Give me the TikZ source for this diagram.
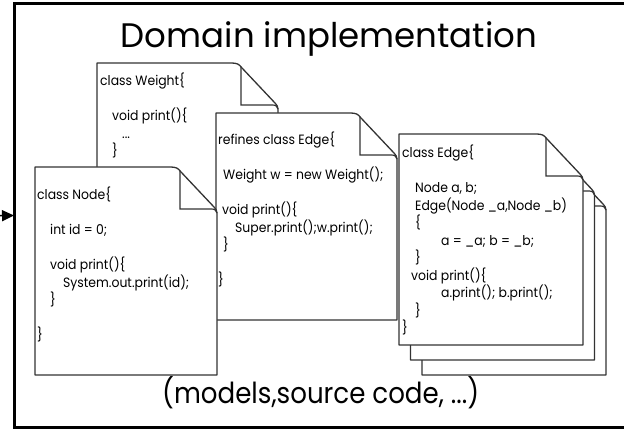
\documentclass[tikz,border=0pt]{standalone}
\usepackage{fontspec}
\setmainfont{Poppins}
\newfontfamily\codefont[FakeStretch=0.92]{Poppins}
\newfontfamily\headfont{Poppins}
\newfontfamily\notefont[FakeStretch=0.9]{Poppins}
\usetikzlibrary{arrows.meta}

\tikzset{
  page/.style={draw=black!80, line width=1.3pt, fill=white, line join=round},
  fold/.style={draw=black!80, line width=1.2pt},
  code/.style={anchor=north west, inner sep=0pt, align=left,
    font=\codefont\fontsize{13.5}{17.5}\selectfont},
  big/.style={inner sep=0pt, font=\headfont\fontsize{34}{34}\selectfont}
}

% page with a folded corner: left, top, right, bottom
\newcommand{\codepage}[4]{%
  \draw[page] (#1,#4) -- (#1,#2) -- (#3-47,#2)
    .. controls (#3-41,#2) and (#3-39,#2+1) .. (#3-36,#2+5) -- (#3-3,#2+40)
    .. controls (#3-1,#2+42) and (#3,#2+44) .. (#3,#2+46) -- (#3,#4) -- cycle;
  \draw[fold] (#3-37,#2+4) -- (#3-37,#2+42) -- (#3-6,#2+42)
    .. controls (#3-2,#2+42) and (#3-1,#2+43) .. (#3,#2+46);
}

\begin{document}
\begin{tikzpicture}[x=1pt, y=-1pt]
  \useasboundingbox (0,0) rectangle (624,430);
  % frame
  \node [draw, line width=3pt, minimum width=640pt, minimum height=423pt,
    anchor=north west, inner sep=0pt, outer sep=0pt] (frame) at (14,4) {};
  \coordinate (src) at (-20,216);
  \draw [line width=1.5pt, -{Triangle[length=12pt,width=11pt]}] (src) -- (frame.west);
  % titles
  \node [big, anchor=base] (title) at (329,48) {Domain implementation};
  % pages
  \codepage{97}{63}{278}{250}
  \node [code] (weight) at (100,73) {class Weight\{\\ \mbox{}\\
    \hspace*{12pt}void print()\{\\ \hspace*{22pt}...\\ \hspace*{12pt}\}};
  \codepage{216}{113}{397}{320}
  \node [code] (refines) at (218,132) {refines class Edge\{\\ \mbox{}\\
    \hspace*{5pt}Weight w = new Weight();\\ \mbox{}\\
    \hspace*{4pt}void print()\{\\ \hspace*{17pt}Super.print();w.print();\\
    \hspace*{5pt}\}\\ \mbox{}\\ \}};
  \codepage{35}{167}{217}{375}
  \node [code] (node) at (37,187) {class Node\{\\ \mbox{}\\
    \hspace*{13pt}int id = 0;\\ \mbox{}\\
    \hspace*{13pt}void print()\{\\ \hspace*{26pt}System.out.print(id);\\
    \hspace*{13pt}\}\\ \mbox{}\\ \}};
  %% stack of edge pages
  \codepage{422}{164}{606}{375}
  \codepage{410.5}{149}{594.5}{360}
  \codepage{399}{134}{583}{345}
  \node [code] (edge) at (402,145) {class Edge\{\\ \mbox{}\\
    \hspace*{13pt}Node a, b;\\ \hspace*{13pt}Edge(Node \_a,Node \_b)\\
    \hspace*{13pt}\{\\ \hspace*{39pt}a = \_a; b = \_b;\\ \hspace*{13pt}\}\\
    \hspace*{9pt}void print()\{\\ \hspace*{39pt}a.print(); b.print();\\
    \hspace*{13pt}\}\\ \}};
  % caption
  \node [big, anchor=base west, font=\notefont\fontsize{29}{30}\selectfont] (caption)
    at (162,403) {(models,source code, ...)};
\end{tikzpicture}
\end{document}
